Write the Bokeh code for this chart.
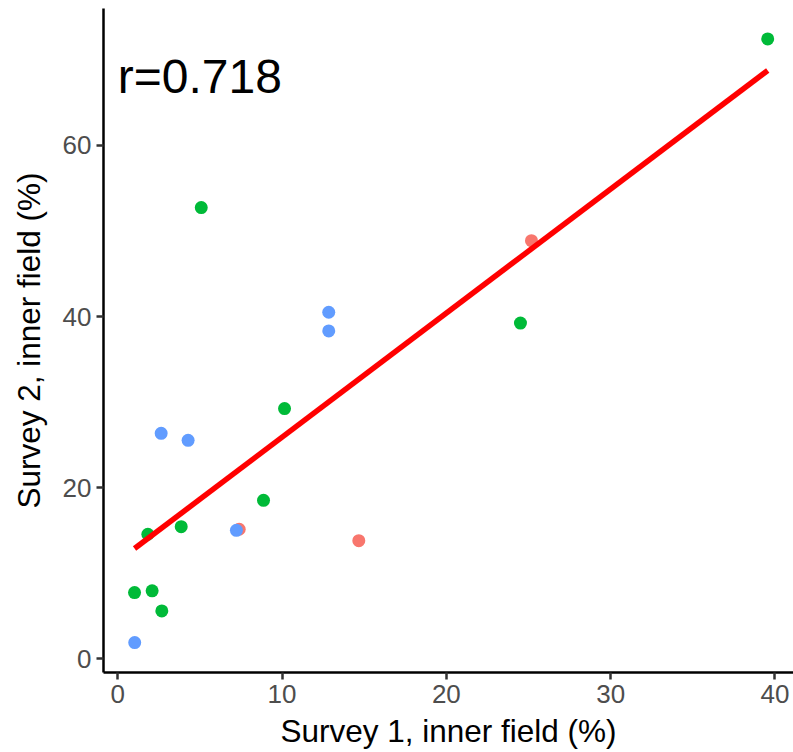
import numpy as np
from bokeh.plotting import figure
from bokeh.models import Range1d, Label, FixedTicker
from bokeh.embed import file_html
from bokeh.resources import INLINE

# Survey results (% inner field), one list pair per group
salmon_x = [25.18, 14.67, 7.39]
salmon_y = [48.87, 13.81, 15.14]

green_x = [39.56, 5.08, 24.51, 10.15, 8.87, 3.86, 1.83, 1.02, 2.09, 2.68]
green_y = [72.45, 52.73, 39.24, 29.24, 18.52, 15.44, 14.56, 7.74, 7.94, 5.60]

blue_x = [12.84, 12.84, 2.64, 4.28, 7.22, 1.03]
blue_y = [40.50, 38.32, 26.35, 25.53, 15.02, 1.90]

x_ticks = [0, 10, 20, 30, 40]
y_ticks = [0, 20, 40, 60]
r_label = "r=0.718"

FONT = "Liberation Sans"

p = figure(
    width=793, height=752,
    output_backend="svg", toolbar_location=None,
    x_range=Range1d(-0.87, 41.13), y_range=Range1d(-1.6, 76.0),
    min_border_left=103, min_border_right=0,
    min_border_top=8, min_border_bottom=80,
)
p.background_fill_color = "white"
p.border_fill_color = "white"
p.outline_line_color = None
p.xgrid.visible = False
p.ygrid.visible = False

for ax in (p.xaxis[0], p.yaxis[0]):
    ax.axis_line_color = "black"
    ax.axis_line_width = 2.5
    ax.major_tick_line_color = "#333333"
    ax.major_tick_line_width = 2.5
    ax.major_tick_in = 0
    ax.major_tick_out = 7
    ax.minor_tick_line_color = None
    ax.major_label_text_font = FONT
    ax.major_label_text_font_size = "26px"
    ax.major_label_text_color = "#4D4D4D"
    ax.axis_label_text_font = FONT
    ax.axis_label_text_font_size = "31.5px"
    ax.axis_label_text_font_style = "normal"
    ax.axis_label_text_color = "black"

p.xaxis.ticker = FixedTicker(ticks=x_ticks)
p.yaxis.ticker = FixedTicker(ticks=y_ticks)
p.xaxis.axis_label = "Survey 1, inner field (%)"
p.yaxis.axis_label = "Survey 2, inner field (%)"
p.xaxis.major_label_standoff = 5
p.yaxis.major_label_standoff = 5
p.xaxis.axis_label_standoff = 7
p.yaxis.axis_label_standoff = 13

# points: salmon first so the blue point sits on top of it
p.scatter(salmon_x, salmon_y, size=13, fill_color="#F8766D", line_color=None)
p.scatter(green_x, green_y, size=13, fill_color="#00BA38", line_color=None)
p.scatter(blue_x, blue_y, size=13, fill_color="#619CFF", line_color=None)

# least-squares fit over all points
all_x = np.array(salmon_x + green_x + blue_x)
all_y = np.array(salmon_y + green_y + blue_y)
slope, intercept = np.polyfit(all_x, all_y, 1)
fit_x = np.array([all_x.min(), all_x.max()])
p.line(fit_x, slope * fit_x + intercept, line_color="red", line_width=5.5)

p.add_layout(Label(x=0, y=68.0, text=r_label, text_font=FONT,
                   text_font_size="48px", text_color="black",
                   text_baseline="alphabetic", text_align="left"))

open("out.html", "w").write(file_html(p, INLINE))
